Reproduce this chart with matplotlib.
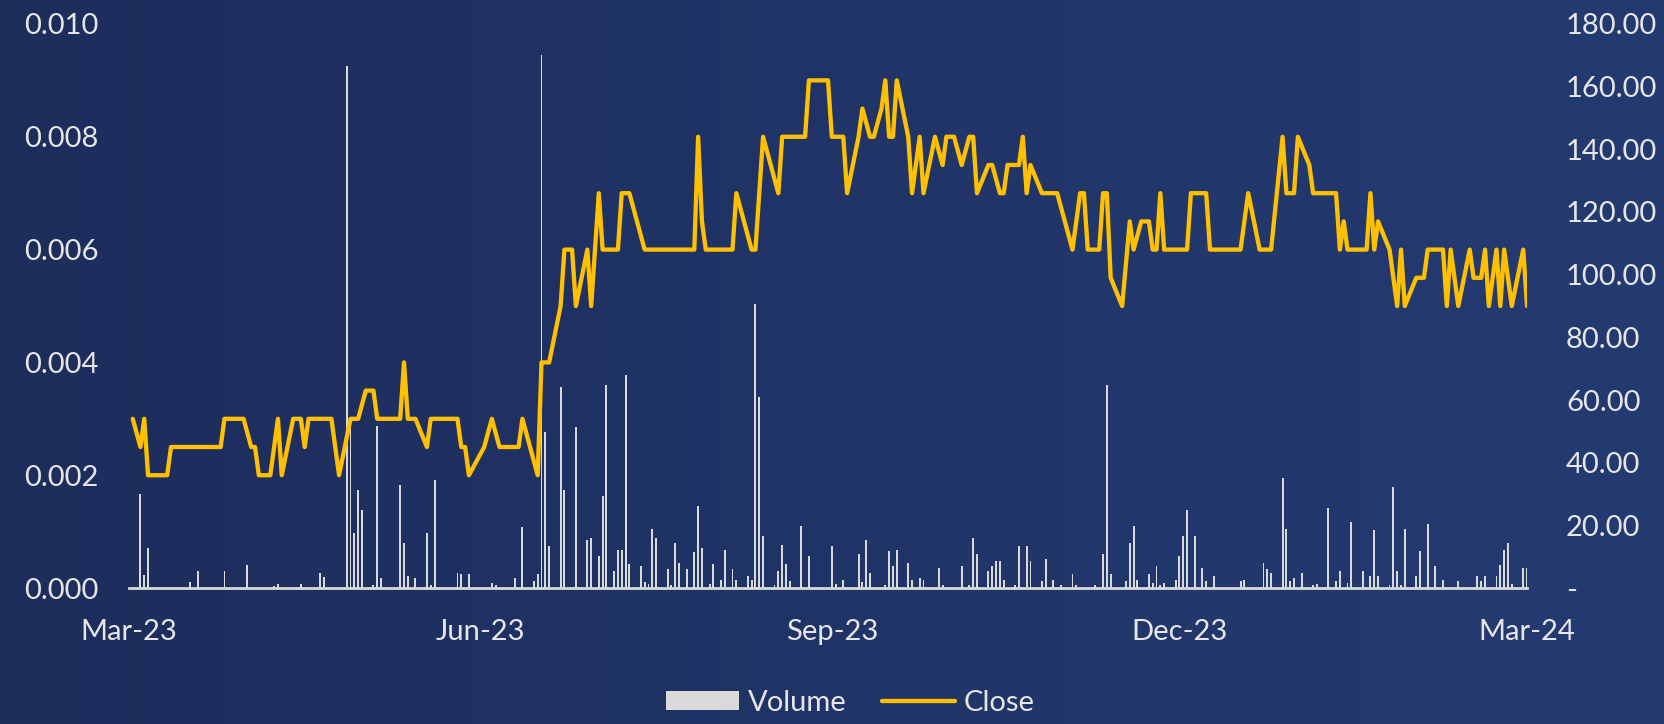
import numpy as np
import pandas as pd
import matplotlib
matplotlib.use("Agg")
import matplotlib.pyplot as plt
import matplotlib.dates as mdates
from matplotlib.ticker import FuncFormatter, FixedLocator
from matplotlib.patches import Patch
from matplotlib.lines import Line2D

# ---------------- data ----------------
start_date = "2023-03-01"
end_date = "2024-03-01"
tick_dates = ["2023-03-01", "2023-06-01", "2023-09-01", "2023-12-01", "2024-03-01"]

# Close price: day offsets from start_date and values
close_days = [1, 3, 4, 5, 10, 11, 24, 25, 30, 32, 33, 34, 37, 39, 40, 43, 45, 46, 47, 53,
              55, 58, 60, 62, 64, 65, 71, 72, 73, 75, 78, 79, 86, 87, 88, 89, 93, 95, 97, 102,
              103, 107, 108, 110, 113, 114, 116, 117, 120, 121, 123, 124, 128, 129, 131, 135, 148, 149, 150, 151,
              158, 159, 163, 164, 166, 170, 171, 177, 178, 183, 184, 187, 188, 191, 192, 194, 195, 197, 198, 199,
              200, 201, 204, 205, 207, 208, 211, 213, 214, 216, 218, 220, 221, 222, 225, 226, 228, 229, 230, 233,
              234, 235, 236, 239, 243, 247, 249, 250, 251, 254, 255, 256, 257, 260, 262, 263, 265, 267, 268, 269,
              270, 271, 277, 278, 282, 283, 291, 293, 296, 299, 302, 303, 305, 306, 309, 310, 316, 317, 318, 319,
              324, 325, 326, 327, 330, 332, 333, 334, 337, 339, 340, 344, 345, 346, 348, 351, 352, 354, 355, 356,
              358, 359, 360, 362, 365, 366]
close_vals = [54, 45, 54, 36, 36, 45, 45, 54, 54, 45, 45, 36, 36, 54, 36, 54, 54, 45, 54, 54,
              36, 54, 54, 63, 63, 54, 54, 72, 54, 54, 45, 54, 54, 45, 45, 36, 45, 54, 45, 45,
              54, 36, 72, 72, 90, 108, 108, 90, 108, 90, 126, 108, 108, 126, 126, 108, 108, 144, 117, 108,
              108, 126, 108, 108, 144, 126, 144, 144, 162, 162, 144, 144, 126, 144, 153, 144, 144, 153, 162, 144,
              144, 162, 144, 126, 144, 126, 144, 135, 144, 144, 135, 144, 144, 126, 135, 135, 126, 126, 135, 135,
              144, 126, 135, 126, 126, 108, 126, 126, 108, 108, 126, 126, 99, 90, 117, 108, 117, 117, 108, 108,
              126, 108, 108, 126, 126, 108, 108, 126, 108, 108, 144, 126, 126, 144, 135, 126, 126, 108, 117, 108,
              108, 126, 108, 117, 108, 90, 108, 90, 99, 99, 108, 108, 90, 108, 90, 108, 99, 99, 108, 90,
              108, 90, 108, 90, 108, 90]

# Volume: day offsets from start_date and values
vol_days = [3, 4, 5, 16, 18, 25, 31, 38, 39, 45, 50, 51, 57, 58, 59, 60, 61, 64, 65, 66,
            71, 72, 73, 75, 78, 79, 80, 86, 87, 89, 95, 96, 101, 103, 106, 107, 108, 109, 110, 113,
            114, 117, 120, 121, 123, 124, 125, 127, 128, 129, 130, 131, 134, 135, 136, 137, 138, 141, 142, 143,
            144, 146, 148, 149, 150, 152, 153, 155, 156, 158, 159, 162, 163, 164, 165, 166, 169, 170, 171, 172,
            173, 176, 178, 184, 185, 187, 191, 192, 193, 194, 198, 199, 200, 201, 204, 205, 207, 208, 212, 213,
            218, 220, 221, 222, 225, 226, 227, 228, 229, 232, 233, 235, 236, 239, 240, 242, 244, 247, 248, 253,
            255, 256, 257, 261, 262, 263, 264, 267, 268, 269, 270, 271, 274, 275, 276, 277, 279, 281, 282, 284,
            291, 292, 297, 298, 299, 302, 303, 304, 305, 307, 310, 311, 314, 316, 317, 319, 320, 323, 325, 326,
            327, 330, 331, 332, 333, 334, 337, 338, 340, 342, 344, 348, 353, 354, 355, 358, 359, 360, 361, 362,
            365, 366]
vol_vals = [0.00166, 0.00023, 0.00071, 0.00010, 0.00030, 0.00030, 0.00040, 0.00004, 0.00007, 0.00007,
            0.00027, 0.00020, 0.00926, 0.00295, 0.00097, 0.00173, 0.00139, 0.00006, 0.00288, 0.00018,
            0.00182, 0.00080, 0.00021, 0.00018, 0.00097, 0.00006, 0.00192, 0.00027, 0.00024, 0.00024,
            0.00009, 0.00006, 0.00018, 0.00108, 0.00012, 0.00024, 0.00945, 0.00276, 0.00074, 0.00356,
            0.00173, 0.00285, 0.00086, 0.00089, 0.00057, 0.00164, 0.00360, 0.00030, 0.00068, 0.00068,
            0.00378, 0.00042, 0.00039, 0.00011, 0.00007, 0.00105, 0.00089, 0.00033, 0.00005, 0.00080,
            0.00045, 0.00033, 0.00063, 0.00145, 0.00071, 0.00007, 0.00042, 0.00015, 0.00068, 0.00033,
            0.00015, 0.00021, 0.00015, 0.00503, 0.00338, 0.00092, 0.00005, 0.00030, 0.00077, 0.00042,
            0.00012, 0.00110, 0.00057, 0.00074, 0.00007, 0.00015, 0.00060, 0.00011, 0.00086, 0.00027,
            0.00005, 0.00065, 0.00039, 0.00068, 0.00045, 0.00015, 0.00018, 0.00015, 0.00036, 0.00005,
            0.00039, 0.00005, 0.00089, 0.00060, 0.00030, 0.00039, 0.00048, 0.00048, 0.00015, 0.00005,
            0.00074, 0.00074, 0.00048, 0.00012, 0.00051, 0.00015, 0.00006, 0.00024, 0.00006, 0.00006,
            0.00060, 0.00360, 0.00024, 0.00012, 0.00080, 0.00110, 0.00015, 0.00024, 0.00009, 0.00039,
            0.00006, 0.00009, 0.00015, 0.00057, 0.00092, 0.00139, 0.00092, 0.00036, 0.00012, 0.00021,
            0.00012, 0.00015, 0.00045, 0.00033, 0.00027, 0.00195, 0.00105, 0.00012, 0.00018, 0.00027,
            0.00005, 0.00007, 0.00142, 0.00012, 0.00030, 0.00009, 0.00117, 0.00030, 0.00021, 0.00102,
            0.00021, 0.00005, 0.00180, 0.00030, 0.00005, 0.00105, 0.00021, 0.00065, 0.00114, 0.00039,
            0.00015, 0.00012, 0.00021, 0.00012, 0.00021, 0.00021, 0.00040, 0.00068, 0.00080, 0.00008,
            0.00035, 0.00035]

vol_ticks = [0.000, 0.002, 0.004, 0.006, 0.008, 0.010]
close_ticks = [0, 20, 40, 60, 80, 100, 120, 140, 160, 180]
legend_labels = ["Volume", "Close"]

# ---------------- style ----------------
plt.rcParams['font.family'] = ['Lato', 'DejaVu Sans']
FS = 21
TXT = '#e6e6e6'
GOLD = '#FFC000'
BAR = '#d9d9d9'
LW = 3.1

base = pd.Timestamp(start_date)
close_x = base + pd.to_timedelta(close_days, unit='D')
vol_x = base + pd.to_timedelta(vol_days, unit='D')

fig = plt.figure(figsize=(16.64, 7.24), dpi=100)

# background gradient
bg = fig.add_axes([0, 0, 1, 1], zorder=-10)
c1 = np.array([29, 45, 92]) / 255.0
c2 = np.array([36, 59, 114]) / 255.0
t = np.linspace(0, 1, 256)
grad = (c1[None, :] * (1 - t[:, None]) + c2[None, :] * t[:, None])[None, :, :]
bg.imshow(grad, aspect='auto', extent=[0, 1, 0, 1])
bg.set_axis_off()

ax = fig.add_axes([0.0775, 0.1878, 0.8402, 0.7791])
ax.patch.set_alpha(0)
ax.bar(vol_x, vol_vals, width=0.5, color=BAR, zorder=2)
ax.set_ylim(0, 0.010)
ax.set_xlim(pd.Timestamp(start_date), pd.Timestamp(end_date))
ax.yaxis.set_major_locator(FixedLocator(vol_ticks))
ax.yaxis.set_major_formatter(FuncFormatter(lambda v, p: f"{v:.3f}"))
ax.xaxis.set_major_locator(FixedLocator(mdates.date2num(pd.to_datetime(tick_dates))))
ax.xaxis.set_major_formatter(mdates.DateFormatter('%b-%y'))

for s in ['top', 'right', 'left']:
    ax.spines[s].set_visible(False)
ax.spines['bottom'].set_color(BAR)
ax.spines['bottom'].set_linewidth(2.0)
ax.tick_params(axis='both', length=0, labelsize=FS, colors=TXT)
ax.tick_params(axis='y', pad=22)
ax.tick_params(axis='x', pad=22)

ax2 = ax.twinx()
ax2.patch.set_alpha(0)
ax2.plot(close_x, close_vals, color=GOLD, lw=LW, solid_joinstyle='round',
         solid_capstyle='round', zorder=3)
ax2.set_ylim(0, 180)
ax2.yaxis.set_major_locator(FixedLocator(close_ticks))
ax2.yaxis.set_major_formatter(FuncFormatter(lambda v, p: "-" if v == 0 else f"{v:,.2f}"))
for s in ['top', 'right', 'left', 'bottom']:
    ax2.spines[s].set_visible(False)
ax2.tick_params(axis='y', length=0, labelsize=FS, colors=TXT, pad=28)

handles = [Patch(facecolor=BAR, edgecolor='none'),
           Line2D([0], [0], color=GOLD, lw=LW, solid_capstyle='round')]
leg = fig.legend(handles, legend_labels, loc='center', bbox_to_anchor=(0.511, 0.029),
                 ncol=2, frameon=False, fontsize=FS, handlelength=2.5, handleheight=0.6,
                 handletextpad=0.3, columnspacing=1.2, labelcolor=TXT)

fig.savefig('out.png', dpi=100)
